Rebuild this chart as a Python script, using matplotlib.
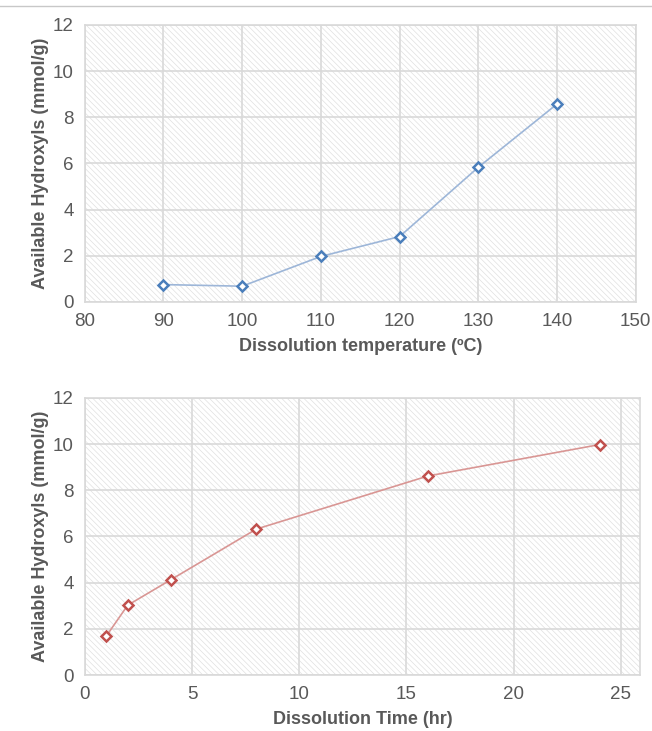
import matplotlib
matplotlib.use("Agg")
import matplotlib.pyplot as plt
from matplotlib.lines import Line2D
from matplotlib.patches import Rectangle

plt.rcParams['font.family'] = ['Liberation Sans', 'DejaVu Sans']
plt.rcParams['hatch.linewidth'] = 0.5

# data
temp = [90, 100, 110, 120, 130, 140]
oh_temp = [0.75, 0.68, 1.97, 2.83, 5.83, 8.57]

time_hr = [1, 2, 4, 8, 16, 24]
oh_time = [1.68, 3.02, 4.12, 6.32, 8.62, 9.98]

fig = plt.figure(figsize=(6.52, 7.31), dpi=100)

# thin rule at the top
fig.add_artist(Line2D([0, 1], [0.992, 0.992], color='#c8c8c8', lw=1))

def style(ax, xlim, xticks, xlabel):
    ax.set_xlim(*xlim)
    ax.set_ylim(0, 12)
    ax.set_xticks(xticks)
    ax.set_yticks(range(0, 13, 2))
    # diagonal hatched plot area
    ax.add_patch(Rectangle((0, 0), 1, 1, transform=ax.transAxes, facecolor='white',
                           edgecolor='#e0e0e0', hatch='\\\\\\\\\\\\', lw=0, zorder=0))
    ax.grid(True, color='#d9d9d9', lw=1.2)
    ax.set_axisbelow(True)
    for s in ax.spines.values():
        s.set_color('#d9d9d9')
        s.set_linewidth(1.2)
    ax.tick_params(length=0, labelsize=13.5, colors='#595959', pad=8)
    ax.set_xlabel(xlabel, fontsize=13, fontweight='bold', color='#595959', labelpad=6)
    ax.set_ylabel('Available Hydroxyls (mmol/g)', fontsize=13, fontweight='bold',
                  color='#595959', labelpad=3)

ax1 = fig.add_axes([0.130, 0.587, 0.845, 0.379])
ax1.plot(temp, oh_temp, color='#9db6d8', lw=1.2, zorder=3)
ax1.plot(temp, oh_temp, ls='none', marker='D', ms=5.5, mfc='white', mec='#4a7ebb',
         mew=1.8, zorder=4)
style(ax1, (80, 150), range(80, 151, 10), 'Dissolution temperature (ºC)')

ax2 = fig.add_axes([0.130, 0.0766, 0.852, 0.379])
ax2.plot(time_hr, oh_time, color='#d99694', lw=1.2, zorder=3)
ax2.plot(time_hr, oh_time, ls='none', marker='D', ms=5.5, mfc='white', mec='#c0504d',
         mew=1.8, zorder=4)
style(ax2, (0, 25.9), range(0, 26, 5), 'Dissolution Time (hr)')

fig.savefig('out.png', dpi=100)
